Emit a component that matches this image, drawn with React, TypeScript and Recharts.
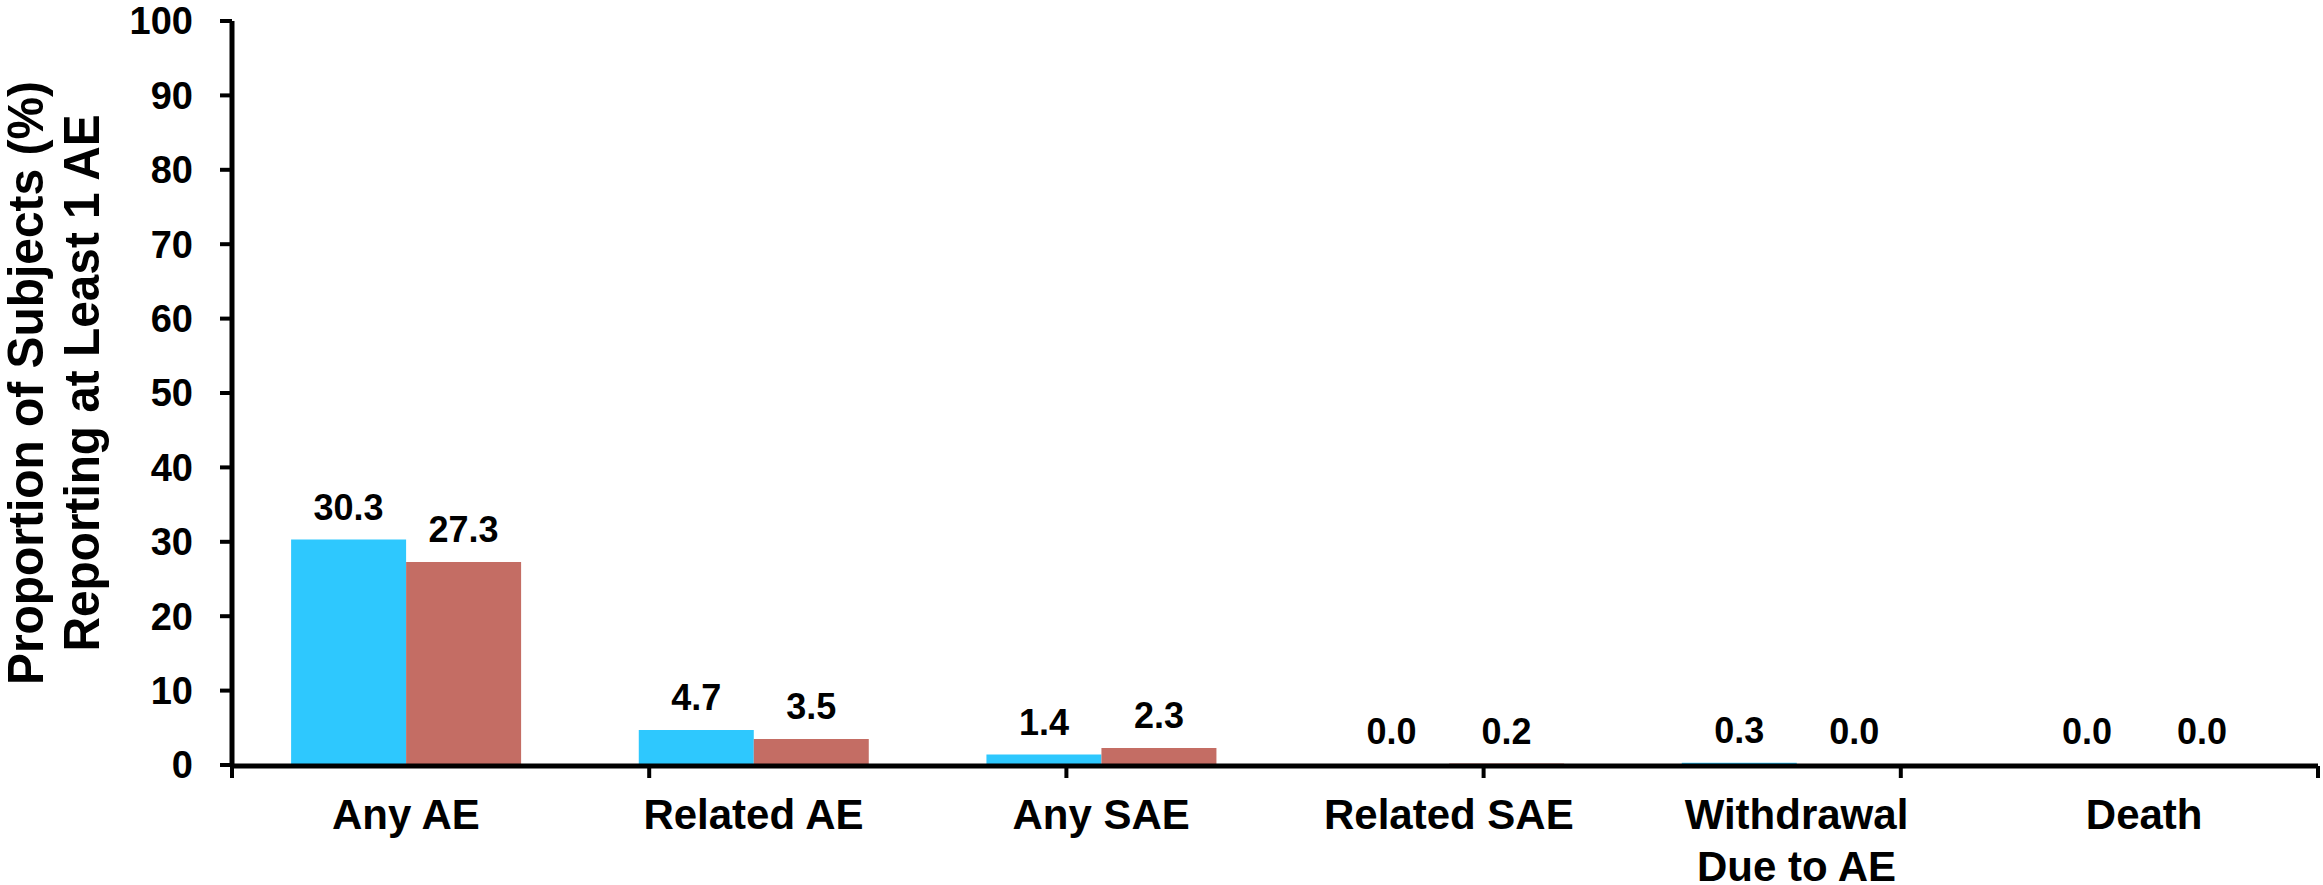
import { BarChart, Bar, XAxis, YAxis, LabelList } from "recharts";

const categories = ["Any AE", "Related AE", "Any SAE", "Related SAE", "Withdrawal\nDue to AE", "Death"];
const groupA = [30.3, 4.7, 1.4, 0.0, 0.3, 0.0];
const groupB = [27.3, 3.5, 2.3, 0.2, 0.0, 0.0];
const yTicks = [0, 10, 20, 30, 40, 50, 60, 70, 80, 90, 100];
const edgeTicks = [0, 1, 2, 3, 4, 5, 6];
const titleLines = ["Proportion of Subjects (%)", "Reporting at Least 1 AE"];

const data = categories.map((name, i) => ({ name, a: groupA[i], b: groupB[i] }));

const FONT = "'Liberation Sans', Arial, sans-serif";
const labelStyle = { fontSize: 36, fontWeight: "bold", fill: "#000", fontFamily: FONT };

function CategoryTick({ x, y, payload }: any) {
  const lines = String(payload.value).split("\n");
  return (
    <text x={x} y={y} textAnchor="middle" fontSize={42} fontWeight="bold" fontFamily={FONT} fill="#000">
      {lines.map((line, i) => (
        <tspan key={i} x={x} dy={i === 0 ? 64 : 52}>
          {line}
        </tspan>
      ))}
    </text>
  );
}

export default function App() {
  return (
    <div style={{ position: "relative", width: 2323, height: 885, background: "#fff" }}>
      <style>{`body { margin: 0; }`}</style>
      <BarChart
        width={2323}
        height={885}
        data={data}
        margin={{ top: 21, right: 5, left: 0, bottom: 118 }}
        barCategoryGap="17%"
        barGap={0}
      >
        {/* category names, no line of their own */}
        <XAxis
          xAxisId="cat"
          dataKey="name"
          height={1}
          interval={0}
          axisLine={false}
          tickLine={false}
          tickSize={0}
          tickMargin={0}
          tick={<CategoryTick />}
        />
        {/* baseline with tick marks between the categories */}
        <XAxis
          xAxisId="edges"
          type="number"
          domain={[0, 6]}
          ticks={edgeTicks}
          allowDataOverflow
          height={1}
          tickSize={12}
          tickFormatter={() => ""}
          axisLine={{ stroke: "#000", strokeWidth: 5 }}
          tickLine={{ stroke: "#000", strokeWidth: 4 }}
        />
        <YAxis
          width={232}
          domain={[0, 100]}
          ticks={yTicks}
          interval={0}
          tickSize={12}
          tickMargin={27}
          axisLine={{ stroke: "#000", strokeWidth: 5 }}
          tickLine={{ stroke: "#000", strokeWidth: 4 }}
          tick={{ fontSize: 38, fontWeight: "bold", fill: "#000", fontFamily: FONT }}
        />
        <Bar dataKey="a" xAxisId="cat" fill="#2EC8FE" minPointSize={1} isAnimationActive={false}>
          <LabelList
            dataKey="a"
            position="top"
            offset={20}
            formatter={(v: any) => Number(v).toFixed(1)}
            style={labelStyle}
          />
        </Bar>
        <Bar dataKey="b" xAxisId="cat" fill="#C46D64" minPointSize={1} isAnimationActive={false}>
          <LabelList
            dataKey="b"
            position="top"
            offset={20}
            formatter={(v: any) => Number(v).toFixed(1)}
            style={labelStyle}
          />
        </Bar>
      </BarChart>
      {/* rotated two-line axis title */}
      <svg width={120} height={885} style={{ position: "absolute", left: 0, top: 0 }}>
        <text
          x={43}
          y={383}
          transform="rotate(-90, 43, 383)"
          textAnchor="middle"
          fontSize={50}
          fontWeight="bold"
          fontFamily={FONT}
          textLength={604}
          lengthAdjust="spacingAndGlyphs"
        >
          {titleLines[0]}
        </text>
        <text
          x={99}
          y={383}
          transform="rotate(-90, 99, 383)"
          textAnchor="middle"
          fontSize={50}
          fontWeight="bold"
          fontFamily={FONT}
          textLength={537}
          lengthAdjust="spacingAndGlyphs"
        >
          {titleLines[1]}
        </text>
      </svg>
    </div>
  );
}
